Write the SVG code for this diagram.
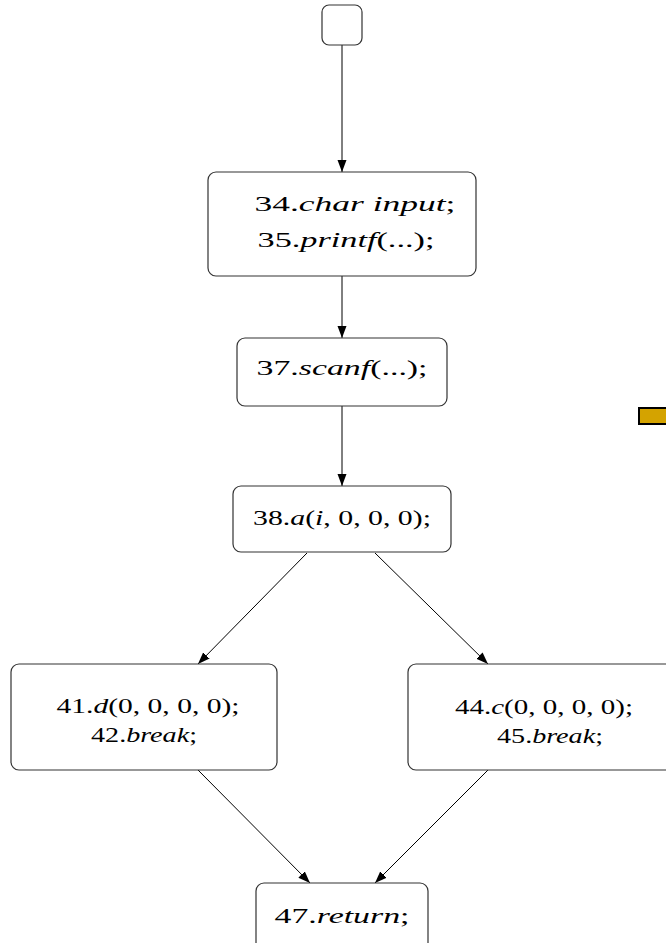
<svg xmlns="http://www.w3.org/2000/svg" width="666" height="943" viewBox="0 0 666 943">
<style>
.node rect{fill:#fff;stroke:#333;stroke-width:1.2}
text{font-family:"Liberation Serif","DejaVu Serif",serif;font-size:22px;fill:#000;text-anchor:middle}
.i{font-style:italic}
.edge{stroke:#000;stroke-width:1;fill:none;marker-end:url(#arr)}
</style>
<defs>
<marker id="arr" viewBox="0 0 12 10" refX="12" refY="5" markerWidth="12" markerHeight="10" markerUnits="userSpaceOnUse" orient="auto">
<path d="M0,0.5 L12,5 L0,9.5 Z" fill="#000"/>
</marker>
</defs>
<rect x="639" y="408" width="30" height="16" fill="#d4a300" stroke="#000" stroke-width="2"/>
<g id="connectors">
<line class="edge" x1="342" y1="45" x2="342" y2="172"/>
<line class="edge" x1="342" y1="276" x2="342" y2="338"/>
<line class="edge" x1="342" y1="406" x2="342" y2="486"/>
<line class="edge" x1="307" y1="553" x2="198" y2="664"/>
<line class="edge" x1="375" y1="553" x2="488" y2="664"/>
<line class="edge" x1="198" y1="770" x2="310" y2="883"/>
<line class="edge" x1="488" y1="770" x2="375" y2="883"/>
</g>
<g id="start" class="node"><rect x="322" y="5" width="40" height="40" rx="7"/></g>
<g id="n1" class="node"><rect x="208" y="172" width="268" height="104" rx="8"/>
<text x="355" y="211" textLength="201" lengthAdjust="spacingAndGlyphs">34.<tspan class="i">char input</tspan>;</text>
<text x="346" y="247" textLength="177" lengthAdjust="spacingAndGlyphs">35.<tspan class="i">printf</tspan>(...);</text>
</g>
<g id="n2" class="node"><rect x="237" y="338" width="210" height="68" rx="8"/>
<text x="342" y="375" textLength="171" lengthAdjust="spacingAndGlyphs">37.<tspan class="i">scanf</tspan>(...);</text>
</g>
<g id="n3" class="node"><rect x="233" y="486" width="218" height="66" rx="8"/>
<text x="342" y="525" textLength="178" lengthAdjust="spacingAndGlyphs">38.<tspan class="i">a</tspan>(<tspan class="i">i</tspan>, 0, 0, 0);</text>
</g>
<g id="n4" class="node"><rect x="11" y="664" width="266" height="106" rx="8"/>
<text x="148" y="713" textLength="183" lengthAdjust="spacingAndGlyphs">41.<tspan class="i">d</tspan>(0, 0, 0, 0);</text>
<text x="144" y="742" textLength="106" lengthAdjust="spacingAndGlyphs">42.<tspan class="i">break</tspan>;</text>
</g>
<g id="n5" class="node"><rect x="408" y="664" width="266" height="106" rx="8"/>
<text x="544" y="714" textLength="178" lengthAdjust="spacingAndGlyphs">44.<tspan class="i">c</tspan>(0, 0, 0, 0);</text>
<text x="550" y="743" textLength="106" lengthAdjust="spacingAndGlyphs">45.<tspan class="i">break</tspan>;</text>
</g>
<g id="n6" class="node"><rect x="256" y="883" width="172" height="70" rx="8"/>
<text x="342" y="923" textLength="135" lengthAdjust="spacingAndGlyphs">47.<tspan class="i">return</tspan>;</text>
</g>
</svg>
